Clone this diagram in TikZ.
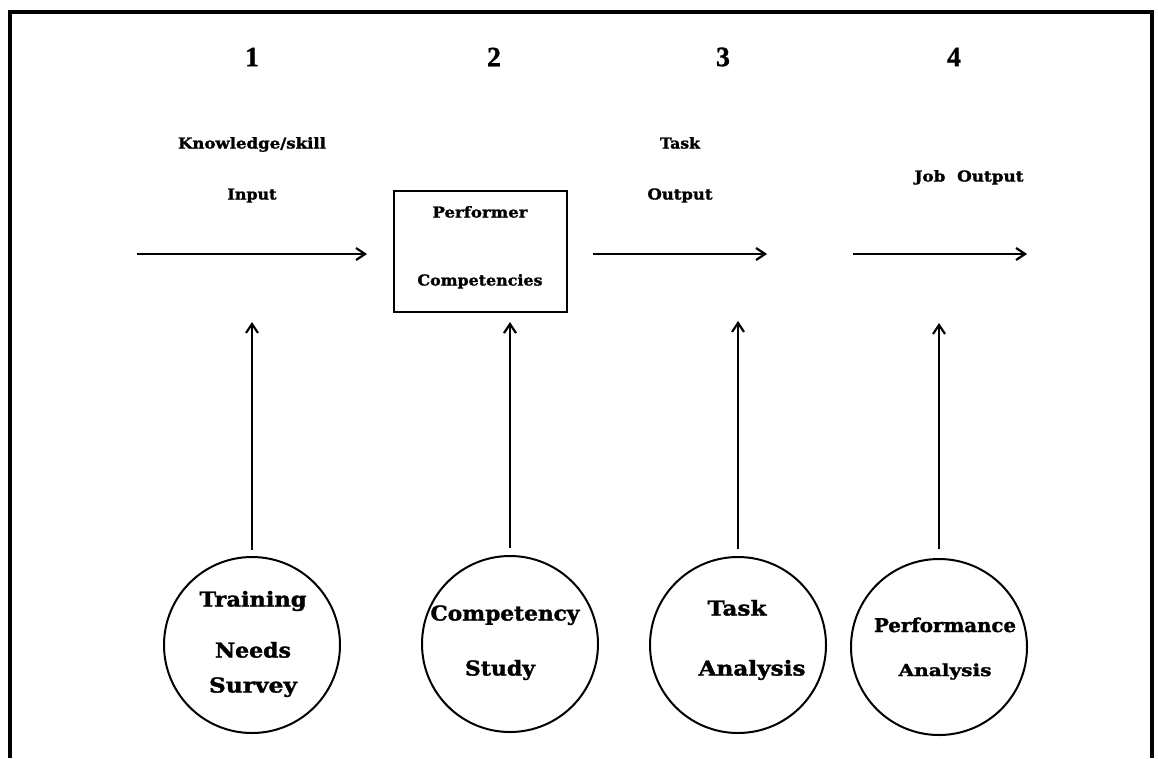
\documentclass[tikz,border=0pt]{standalone}
\usepackage{fontspec}
\usepackage{graphicx}
\usetikzlibrary{arrows.meta}
\newfontfamily\slabfont{DejaVu Serif}[BoldFeatures={FakeBold=1.5}]
\newfontfamily\numfont{Liberation Serif}[BoldFeatures={FakeBold=1}]
% stretch a word horizontally to a given width (in pt), keeping its height
\newcommand\spreadto[2]{\resizebox{#1pt}{\height}{#2}}
\tikzset{
  num/.style={inner sep=0pt, font=\numfont\bfseries\fontsize{28}{28}\selectfont},
  lbl/.style={inner sep=0pt, text height=11pt, text depth=0pt,
              font=\slabfont\bfseries\fontsize{15}{15}\selectfont},
  big/.style={inner sep=0pt, text height=15pt, text depth=0pt,
              font=\slabfont\bfseries\fontsize{20.5}{20.5}\selectfont},
  flow/.style={line width=2.2pt, -{Straight Barb[length=9pt,width=12pt,line width=2.2pt]}},
  stage/.style={draw, line width=2pt, circle, minimum size=176pt, inner sep=0pt},
  compbox/.style={draw, line width=2.2pt, minimum width=173pt, minimum height=121pt, inner sep=0pt}
}
\begin{document}
\begin{tikzpicture}[x=1pt, y=-1pt]
\useasboundingbox (0,0) rectangle (1158,758);

% open frame (no bottom edge)
\draw[line width=3.5pt] (10,758) -- (10,12) -- (1152,12) -- (1152,758);

% column numbers
\node[num] (n1) at (252,57) {1};
\node[num] (n2) at (494,57) {2};
\node[num] (n3) at (723,57) {3};
\node[num] (n4) at (954,57) {4};

% flow labels
\node[lbl] (know)  at (252,143) {\spreadto{148}{Knowledge/skill}};
\node[lbl] (input) at (252,194) {\spreadto{49}{Input}};
\node[lbl] (task)  at (680,143) {\spreadto{40}{Task}};
\node[lbl] (tout)  at (680,194) {\spreadto{65}{Output}};
\node[lbl] (jout)  at (969,176) {\spreadto{109}{Job\ \ Output}};

% performer competencies box
\node[compbox] (pc) at (480.5,251.5) {};
\node[lbl] (perf) at (480,212) {\spreadto{95}{Performer}};
\node[lbl] (comp) at (480,280) {\spreadto{125}{Competencies}};

% horizontal flow arrows
\coordinate (a1s) at (137,254);  \coordinate (a1e) at (367,254);
\coordinate (a2s) at (593,254);  \coordinate (a2e) at (767,254);
\coordinate (a3s) at (853,254);  \coordinate (a3e) at (1027,254);
\draw[flow] (a1s) -- (a1e);
\draw[flow] (a2s) -- (a2e);
\draw[flow] (a3s) -- (a3e);

% analysis methods
\node[stage] (c1) at (252,645) {};
\node[stage] (c2) at (510,644) {};
\node[stage] (c3) at (738,645) {};
\node[stage] (c4) at (939,647) {};

\node[big] (t1a) at (253,599) {\spreadto{107}{Training}};
\node[big] (t1b) at (253,650) {\spreadto{76}{Needs}};
\node[big] (t1c) at (253,685) {\spreadto{88}{Survey}};
\node[big] (t2a) at (505,613) {\spreadto{149}{Competency}};
\node[big] (t2b) at (500,668) {\spreadto{70}{Study}};
\node[big] (t3a) at (737,608) {\spreadto{59}{Task}};
\node[big] (t3b) at (752,668) {\spreadto{107}{Analysis}};
\node[big, text height=14pt, font=\slabfont\bfseries\fontsize{19}{19}\selectfont] (t4a) at (945,625) {\spreadto{142}{Performance}};
\node[big, text height=12pt, font=\slabfont\bfseries\fontsize{16.5}{16.5}\selectfont] (t4b) at (945,670) {\spreadto{93}{Analysis}};

% vertical arrows from methods up to the flow
\coordinate (v1) at (252,322);
\coordinate (v3) at (738,321);
\coordinate (v4) at (939,323);
\draw[flow, shorten <=6pt] (c1.north) -- (v1);
\draw[flow, shorten <=7pt, shorten >=9pt] (c2.north) -- (c2.north |- pc.south);
\draw[flow, shorten <=7pt] (c3.north) -- (v3);
\draw[flow, shorten <=9pt] (c4.north) -- (v4);
\end{tikzpicture}
\end{document}
